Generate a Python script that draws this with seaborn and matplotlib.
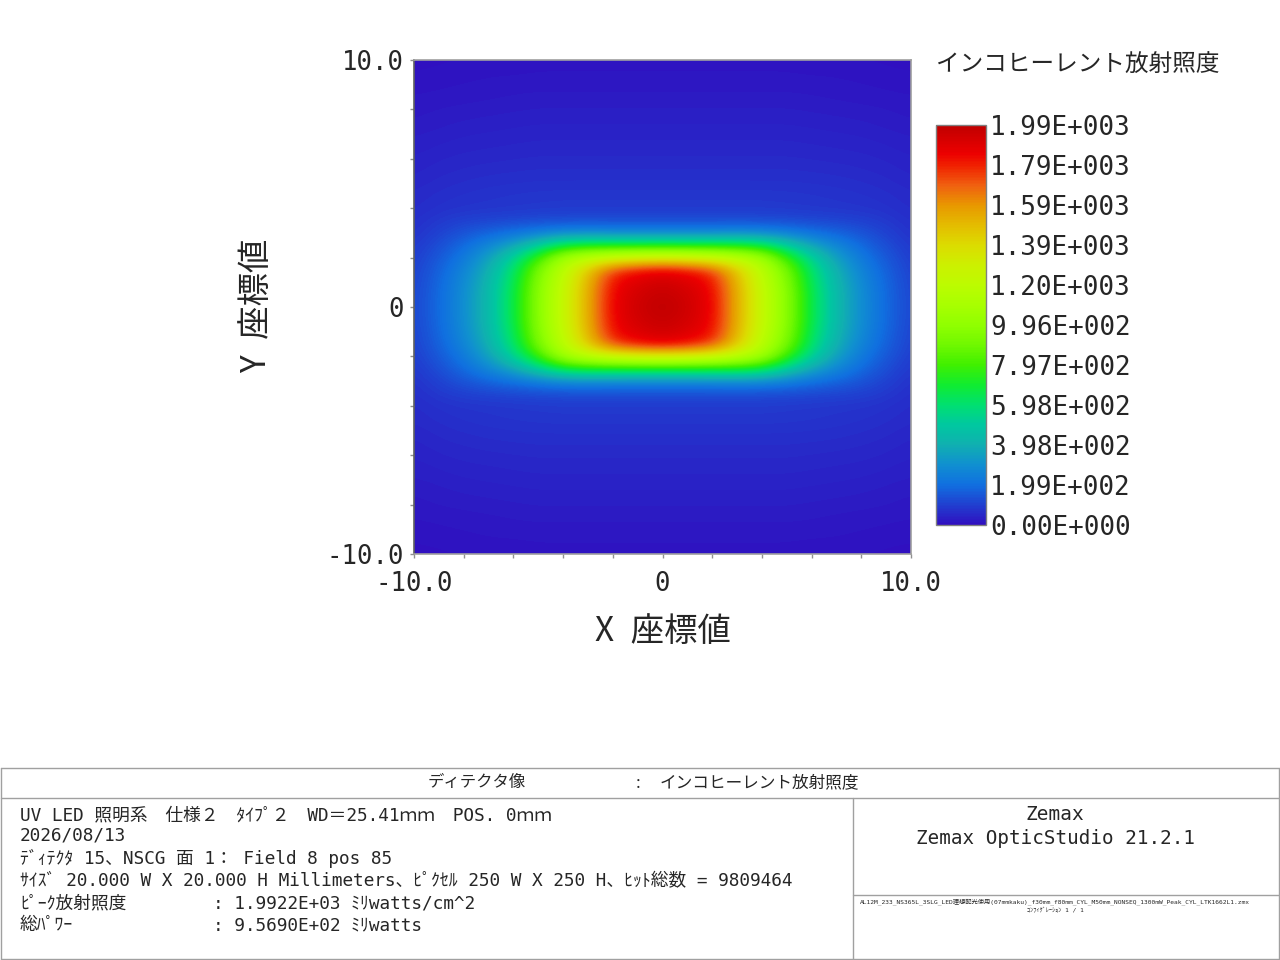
import numpy as np
import matplotlib
matplotlib.use("Agg")
import matplotlib.pyplot as plt
from matplotlib.colors import LinearSegmentedColormap
from matplotlib.lines import Line2D
import seaborn as sns

sns.set_theme(style="white")
plt.rcParams['font.family'] = ['DejaVu Sans Mono', 'Noto Sans CJK JP']

# irradiance, one quadrant (fraction of peak); rows y = 0..10 step 0.5 mm, cols x = 0..10 step 1 mm
peak = 1992.2
x_half = [0, 1, 2, 3, 4, 5, 6, 7, 8, 9, 10]
y_half = [0, 0.5, 1, 1.5, 2, 2.5, 3, 3.5, 4, 4.5, 5, 5.5, 6, 6.5, 7, 7.5, 8, 8.5, 9, 9.5, 10]
quadrant = [
    [1.00, 0.975, 0.935, 0.77, 0.62, 0.49, 0.33, 0.22, 0.145, 0.095, 0.055],
    [0.99, 0.97, 0.93, 0.77, 0.62, 0.49, 0.33, 0.22, 0.145, 0.094, 0.055],
    [0.975, 0.955, 0.92, 0.76, 0.61, 0.48, 0.32, 0.213, 0.14, 0.091, 0.053],
    [0.93, 0.91, 0.87, 0.73, 0.59, 0.46, 0.305, 0.200, 0.131, 0.085, 0.051],
    [0.66, 0.65, 0.63, 0.59, 0.53, 0.39, 0.265, 0.175, 0.115, 0.076, 0.047],
    [0.36, 0.36, 0.36, 0.36, 0.34, 0.26, 0.185, 0.135, 0.095, 0.065, 0.042],
    [0.14, 0.14, 0.14, 0.145, 0.14, 0.125, 0.105, 0.09, 0.072, 0.053, 0.037],
    [0.065, 0.065, 0.065, 0.065, 0.065, 0.063, 0.06, 0.056, 0.052, 0.044, 0.033],
    [0.045, 0.045, 0.045, 0.045, 0.045, 0.044, 0.042, 0.041, 0.039, 0.036, 0.030],
    [0.042, 0.042, 0.042, 0.042, 0.042, 0.041, 0.040, 0.038, 0.036, 0.033, 0.028],
    [0.036, 0.036, 0.036, 0.036, 0.036, 0.036, 0.035, 0.034, 0.032, 0.029, 0.025],
    [0.032, 0.032, 0.032, 0.032, 0.032, 0.032, 0.031, 0.030, 0.028, 0.026, 0.022],
    [0.028, 0.028, 0.028, 0.028, 0.028, 0.028, 0.027, 0.026, 0.025, 0.023, 0.020],
    [0.025, 0.025, 0.025, 0.025, 0.025, 0.025, 0.024, 0.023, 0.022, 0.020, 0.017],
    [0.022, 0.022, 0.022, 0.022, 0.022, 0.022, 0.021, 0.020, 0.019, 0.017, 0.015],
    [0.019, 0.019, 0.019, 0.019, 0.019, 0.019, 0.018, 0.017, 0.016, 0.014, 0.012],
    [0.016, 0.016, 0.016, 0.016, 0.016, 0.016, 0.015, 0.014, 0.013, 0.012, 0.010],
    [0.013, 0.013, 0.013, 0.013, 0.013, 0.013, 0.012, 0.011, 0.010, 0.009, 0.008],
    [0.010, 0.010, 0.010, 0.010, 0.010, 0.010, 0.010, 0.009, 0.008, 0.007, 0.006],
    [0.008, 0.008, 0.008, 0.008, 0.008, 0.008, 0.007, 0.007, 0.006, 0.005, 0.004],
    [0.006, 0.006, 0.006, 0.006, 0.006, 0.006, 0.005, 0.005, 0.004, 0.003, 0.002],
]

cbar_ticks = [0, 199.22, 398.44, 597.66, 796.88, 996.1, 1195.32, 1394.54, 1593.76, 1792.98, 1992.2]
cbar_labels = ['0.00E+000', '1.99E+002', '3.98E+002', '5.98E+002', '7.97E+002', '9.96E+002',
               '1.20E+003', '1.39E+003', '1.59E+003', '1.79E+003', '1.99E+003']
axis_ticks = [-10, 0, 10]
axis_labels = ['-10.0', '0', '10.0']

# Zemax false colour
cmap_stops = [
    (0.00, '#3010c0'), (0.05, '#2040d0'), (0.10, '#1070e0'), (0.15, '#1090d0'),
    (0.20, '#10b0b0'), (0.25, '#00c8a0'), (0.30, '#00e070'), (0.35, '#10ec30'),
    (0.40, '#40f000'), (0.45, '#70f800'), (0.50, '#90ff00'), (0.55, '#a8ff00'),
    (0.60, '#bcfc00'), (0.65, '#ccf000'), (0.70, '#dcdc00'), (0.75, '#e4bc00'),
    (0.80, '#e89800'), (0.85, '#f06010'), (0.90, '#f02000'), (0.93, '#ec0000'),
    (1.00, '#c00000'),
]
zemax = LinearSegmentedColormap.from_list('zemax', cmap_stops)

q = np.array(quadrant) * peak
half = np.hstack([q[:, ::-1], q[:, 1:]])
field = np.vstack([half[::-1], half[1:]])

fig = plt.figure(figsize=(12.8, 9.6), dpi=100)
ax = fig.add_axes([414 / 1280, 1 - 554 / 960, 497 / 1280, 494 / 960])
im = ax.imshow(field, origin='lower', cmap=zemax, vmin=0, vmax=peak,
               extent=[-10.5, 10.5, -10.25, 10.25], aspect='auto',
               interpolation='bicubic', interpolation_stage='data')
ax.set_xlim(-10, 10)
ax.set_ylim(-10, 10)
ax.set_xticks(axis_ticks)
ax.set_xticklabels(axis_labels)
ax.set_yticks(axis_ticks)
ax.set_yticklabels(axis_labels)
ax.set_xticks(np.arange(-10, 11, 2), minor=True)
ax.set_yticks(np.arange(-10, 11, 2), minor=True)
ax.tick_params(which='both', direction='out', length=3, width=1, color='#909090',
               labelsize=18.5, bottom=True, left=True)
ax.tick_params(axis='x', pad=9)
ax.tick_params(axis='y', pad=4)
for s in ax.spines.values():
    s.set_color('#a0a0a0')
    s.set_linewidth(1.2)
ax.spines['left'].set_color('#606060')
ax.grid(False)

cax = fig.add_axes([936 / 1280, 1 - 525 / 960, 50 / 1280, 400 / 960])
cb = fig.colorbar(im, cax=cax, ticks=cbar_ticks)
cb.ax.set_yticklabels(cbar_labels)
cb.ax.tick_params(length=0, pad=3, labelsize=18.7)
cb.outline.set_edgecolor('#808080')
cb.outline.set_linewidth(1)

cjk = ['Noto Sans CJK JP', 'DejaVu Sans']
fig.text(936 / 1280, 1 - 65 / 960, 'インコヒーレント放射照度', ha='left', va='center',
         fontsize=17, family=cjk)
fig.text(663 / 1280, 1 - 632 / 960, 'X\u2002座標値', ha='center', va='center', fontsize=24, family=cjk)
fig.text(257 / 1280, 1 - 306 / 960, 'Y\u2002座標値', ha='center', va='center', fontsize=24,
         rotation=90, family=cjk)

# info panel
def fy(py):
    return 1 - py / 960

lc = '#a0a0a0'
for xs, ys in [([0.0005, 0.9995], [fy(768), fy(768)]), ([0.0005, 0.9995], [fy(798), fy(798)]),
               ([0.0005, 0.9995], [0.001, 0.001]), ([0.0005, 0.0005], [0.001, fy(768)]),
               ([0.9995, 0.9995], [0.001, fy(768)]), ([853 / 1280, 853 / 1280], [0.001, fy(798)]),
               ([853 / 1280, 0.9995], [fy(895), fy(895)])]:
    fig.add_artist(Line2D(xs, ys, color=lc, lw=1, transform=fig.transFigure))

mono = ['DejaVu Sans Mono', 'Noto Sans CJK JP']
fig.text(428 / 1280, fy(783), 'ディテクタ像', ha='left', va='center', fontsize=11.8, family=cjk)
fig.text(638 / 1280, fy(783), ':', ha='center', va='center', fontsize=12, family=cjk)
fig.text(660 / 1280, fy(783), 'インコヒーレント放射照度', ha='left', va='center', fontsize=12, family=cjk)

lines = [
    'UV LED 照明系　仕様２　ﾀｲﾌﾟ２　WD＝25.41ｍｍ　POS. 0ｍｍ',
    '2026/08/13',
    'ﾃﾞｨﾃｸﾀ 15、NSCG 面 1： Field 8 pos 85',
    'ｻｲｽﾞ 20.000 W X 20.000 H Millimeters、ﾋﾟｸｾﾙ 250 W X 250 H、ﾋｯﾄ総数 = 9809464',
    'ﾋﾟｰｸ放射照度',
    '総ﾊﾟﾜｰ',
]
line_y = [815, 835, 858, 881, 903, 925]
for txt, py in zip(lines, line_y):
    fig.text(20 / 1280, fy(py), txt, ha='left', va='center', fontsize=12.75, family=mono)
fig.text(213 / 1280, fy(903), ': 1.9922E+03 ﾐﾘwatts/cm^2', ha='left', va='center', fontsize=12.75, family=mono)
fig.text(213 / 1280, fy(925), ': 9.5690E+02 ﾐﾘwatts', ha='left', va='center', fontsize=12.75, family=mono)

fig.text(1055 / 1280, fy(815), 'Zemax', ha='center', va='center', fontsize=14, family=mono)
fig.text(1055 / 1280, fy(838), 'Zemax OpticStudio 21.2.1', ha='center', va='center', fontsize=13.9, family=mono)
fig.text(1055 / 1280, fy(902),
         'AL12M_233_NS365L_3SLG_LED理想配光使用(07mmkaku)_f30mm_f80mm_CYL_M50mm_NONSEQ_1300mW_Peak_CYL_LTK1662L1.zmx',
         ha='center', va='center', fontsize=4.5, family=mono)
fig.text(1055 / 1280, fy(910), 'ｺﾝﾌｨｸﾞﾚｰｼｮﾝ 1 / 1', ha='center', va='center', fontsize=4.5, family=mono)

fig.savefig('out.png', dpi=100)
